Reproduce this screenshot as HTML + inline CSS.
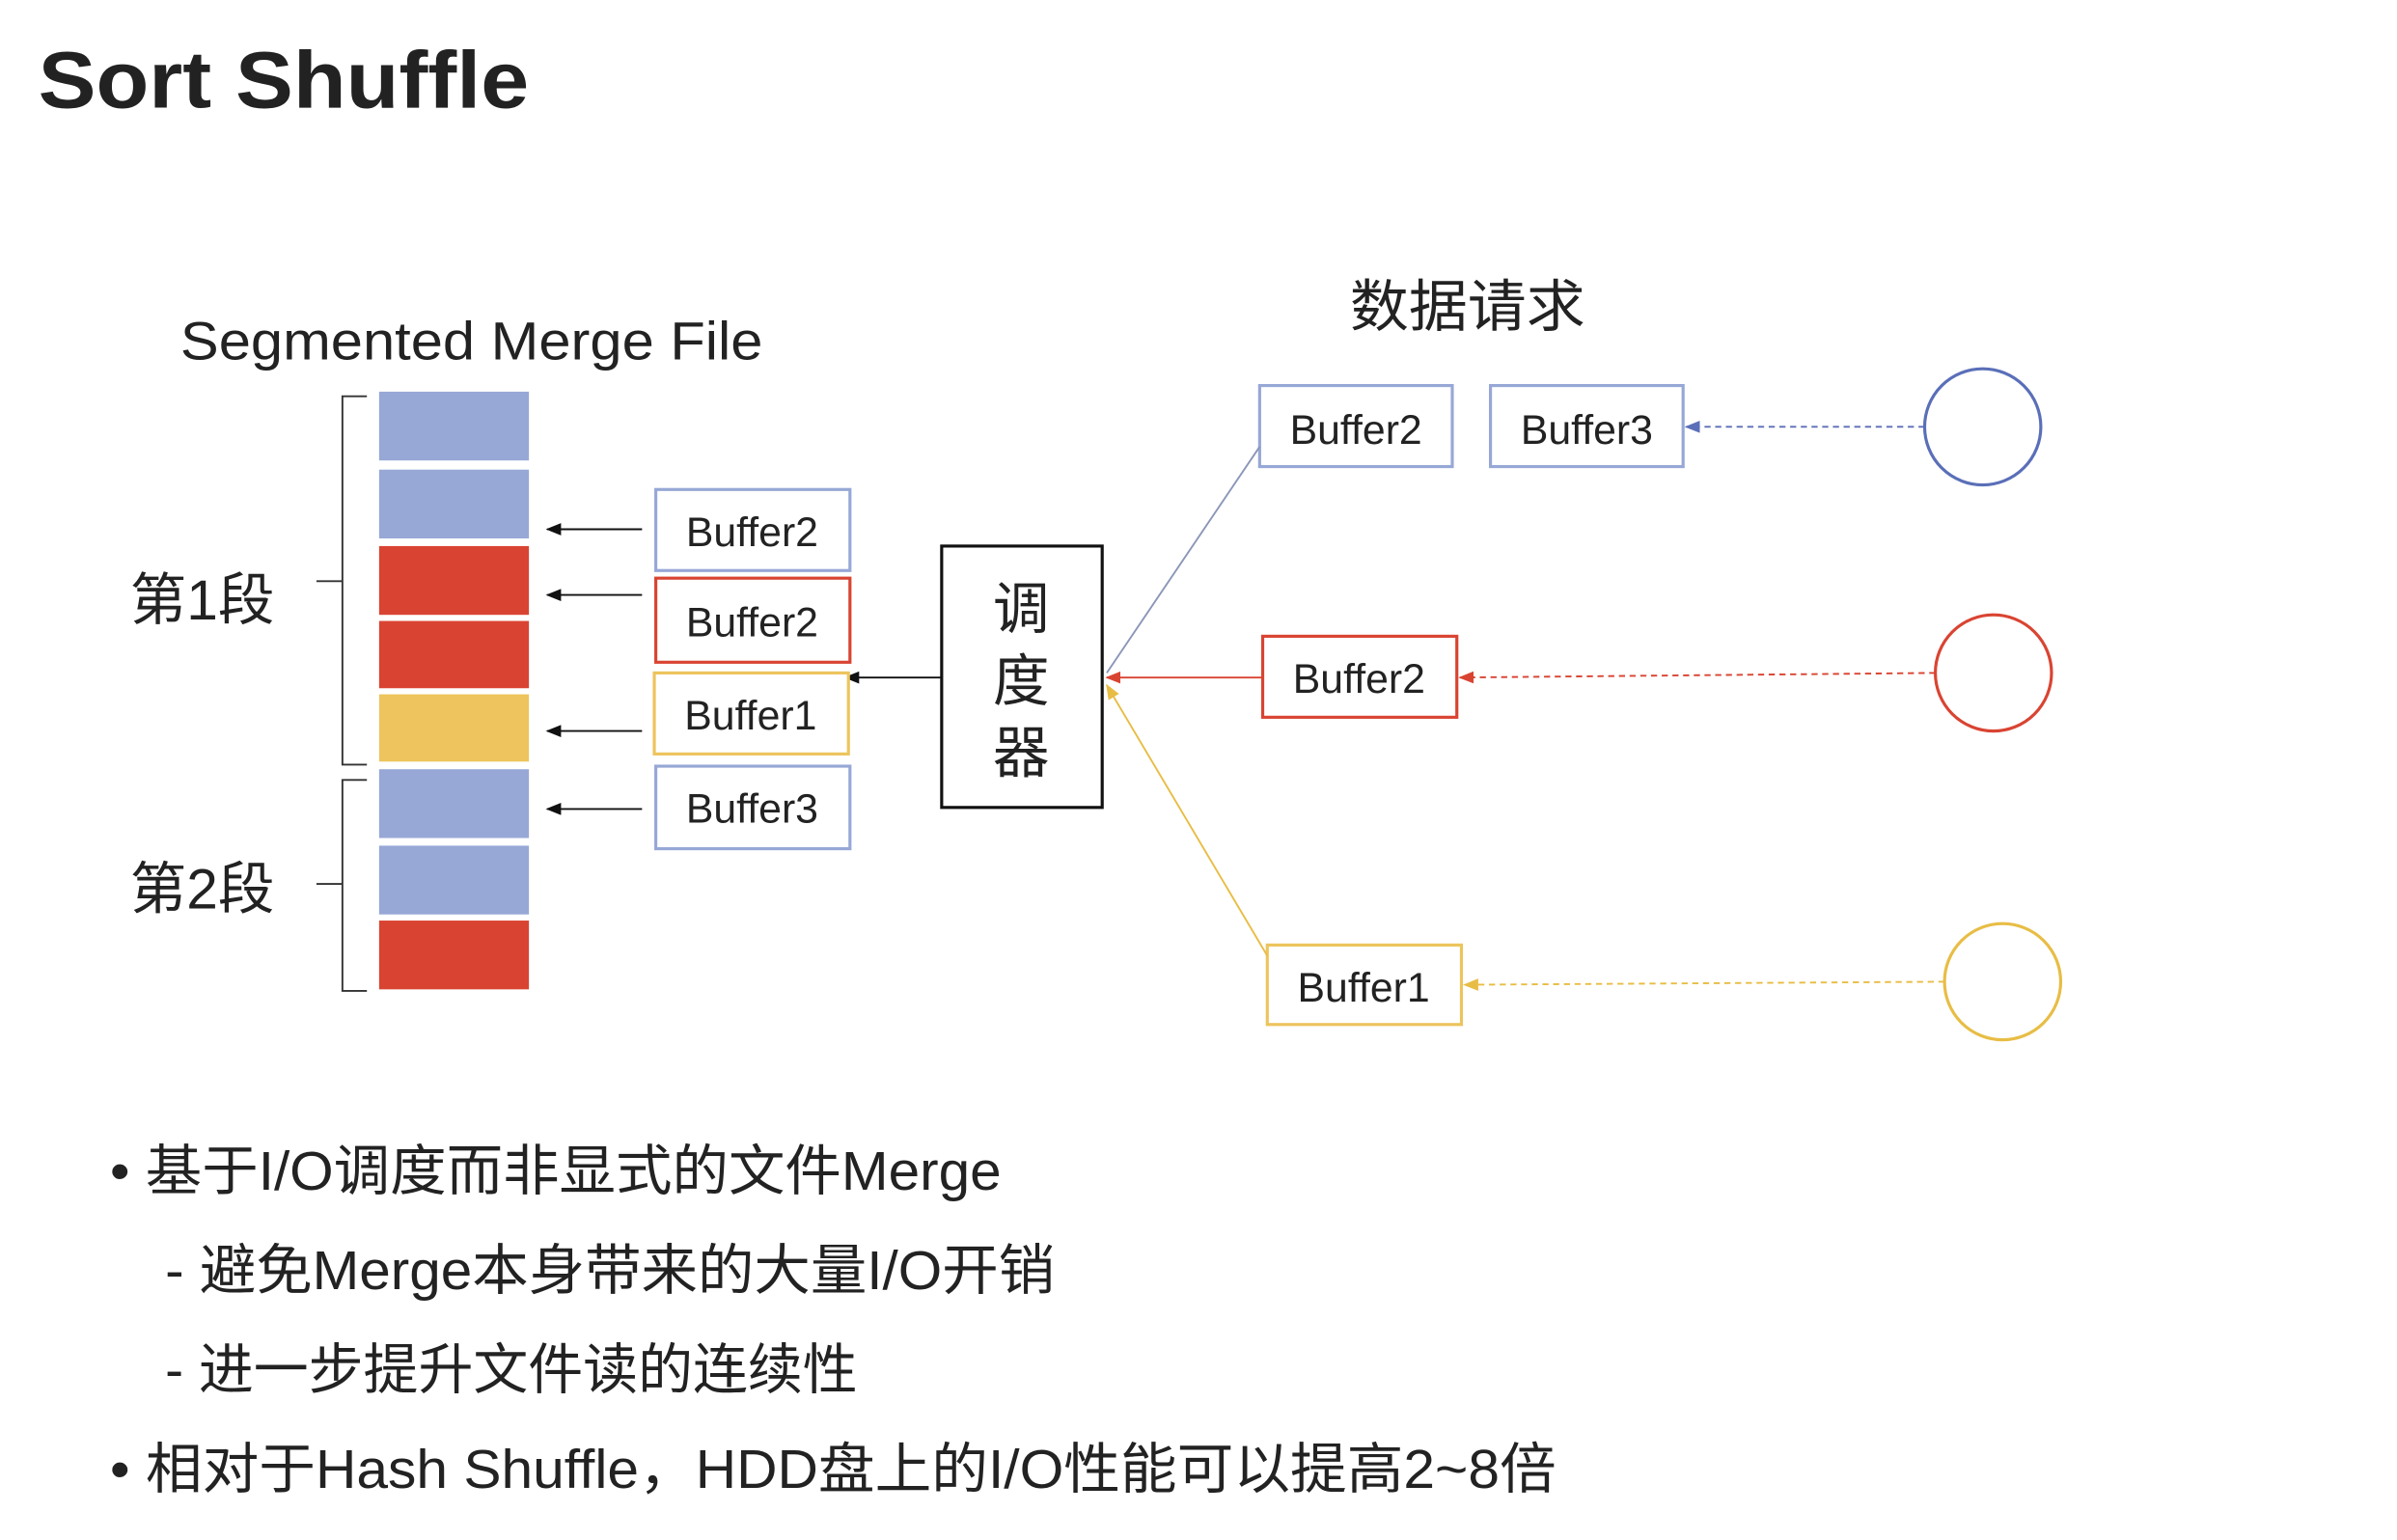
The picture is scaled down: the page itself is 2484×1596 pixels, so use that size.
<!DOCTYPE html>
<html><head><meta charset="utf-8"><style>
html,body{margin:0;padding:0;background:#fff;}
svg{display:block;}
text{font-family:"Liberation Sans","Noto Sans CJK SC",sans-serif;fill:#222;}
</style></head><body>
<svg width="2484" height="1596" viewBox="0 0 1568 1007" xmlns="http://www.w3.org/2000/svg">
<defs>
<marker id="ak" markerWidth="10" markerHeight="8" refX="9" refY="4" orient="auto" markerUnits="userSpaceOnUse"><path d="M0,0 L10,4 L0,8 z" fill="#111"/></marker>
<marker id="ab" markerWidth="10" markerHeight="8" refX="9" refY="4" orient="auto" markerUnits="userSpaceOnUse"><path d="M0,0 L10,4 L0,8 z" fill="#5a6fb8"/></marker>
<marker id="ar" markerWidth="10" markerHeight="8" refX="9" refY="4" orient="auto" markerUnits="userSpaceOnUse"><path d="M0,0 L10,4 L0,8 z" fill="#d94432"/></marker>
<marker id="ay" markerWidth="10" markerHeight="8" refX="9" refY="4" orient="auto" markerUnits="userSpaceOnUse"><path d="M0,0 L10,4 L0,8 z" fill="#e8bd45"/></marker>
</defs>
<text x="25" y="70" font-size="53" font-weight="bold" fill="#111" textLength="321" lengthAdjust="spacingAndGlyphs">Sort Shuffle</text>
<text x="118" y="235" font-size="35" textLength="381" lengthAdjust="spacingAndGlyphs">Segmented Merge File</text>
<g>
<rect x="248" y="256" width="98" height="45" fill="#97a8d6"/>
<rect x="248" y="307" width="98" height="45" fill="#97a8d6"/>
<rect x="248" y="357" width="98" height="45" fill="#d94432"/>
<rect x="248" y="406" width="98" height="44" fill="#d94432"/>
<rect x="248" y="454" width="98" height="44" fill="#edc45d"/>
<rect x="248" y="503" width="98" height="45" fill="#97a8d6"/>
<rect x="248" y="553" width="98" height="45" fill="#97a8d6"/>
<rect x="248" y="602" width="98" height="45" fill="#d94432"/>
</g>
<path d="M240,259 L224,259 L224,380 L207,380 M224,380 L224,500 L240,500" fill="none" stroke="#333" stroke-width="1.2"/>
<path d="M240,510 L224,510 L224,578 L207,578 M224,578 L224,648 L240,648" fill="none" stroke="#333" stroke-width="1.2"/>
<text x="85" y="405" font-size="37">第1段</text>
<text x="85" y="594" font-size="37">第2段</text>
<g stroke="#111" stroke-width="1.2" marker-end="url(#ak)">
<line x1="420" y1="346" x2="358" y2="346"/>
<line x1="420" y1="389" x2="358" y2="389"/>
<line x1="420" y1="478" x2="358" y2="478"/>
<line x1="420" y1="529" x2="358" y2="529"/>
<line x1="616" y1="443" x2="553" y2="443"/>
</g>
<g fill="#fff" stroke-width="2">
<rect x="429" y="320" width="127" height="53" stroke="#97a8d6"/>
<rect x="429" y="378" width="127" height="55" stroke="#d94432"/>
<rect x="428" y="440" width="127" height="53" stroke="#edc45d"/>
<rect x="429" y="501" width="127" height="54" stroke="#97a8d6"/>
<rect x="824" y="252" width="126" height="53" stroke="#97a8d6"/>
<rect x="975" y="252" width="126" height="53" stroke="#97a8d6"/>
<rect x="826" y="416" width="127" height="53" stroke="#d94432"/>
<rect x="829" y="618" width="127" height="52" stroke="#edc45d"/>
</g>
<g font-size="27" text-anchor="middle">
<text x="492" y="357">Buffer2</text>
<text x="492" y="416">Buffer2</text>
<text x="491" y="477">Buffer1</text>
<text x="492" y="538">Buffer3</text>
<text x="887" y="290">Buffer2</text>
<text x="1038" y="290">Buffer3</text>
<text x="889" y="453">Buffer2</text>
<text x="892" y="655">Buffer1</text>
</g>
<rect x="616" y="357" width="105" height="171" fill="#fff" stroke="#111" stroke-width="2"/>
<g font-size="37" text-anchor="middle"><text x="668" y="411">调</text><text x="668" y="458">度</text><text x="668" y="505">器</text></g>
<text x="883" y="213" font-size="37" textLength="154" lengthAdjust="spacingAndGlyphs">数据请求</text>
<line x1="824" y1="292" x2="724" y2="440" stroke="#8b96b8" stroke-width="1.2"/>
<line x1="826" y1="443" x2="724" y2="443" stroke="#d94432" stroke-width="1.2" marker-end="url(#ar)"/>
<line x1="829" y1="625" x2="724" y2="448" stroke="#e8bd45" stroke-width="1.2" marker-end="url(#ay)"/>
<circle cx="1297" cy="279" r="38" fill="none" stroke="#5a6fb8" stroke-width="2"/>
<circle cx="1304" cy="440" r="38" fill="none" stroke="#d94432" stroke-width="2"/>
<circle cx="1310" cy="642" r="38" fill="none" stroke="#e8bd45" stroke-width="2"/>
<line x1="1259" y1="279" x2="1103" y2="279" stroke="#5a6fb8" stroke-width="1.2" stroke-dasharray="4,3" marker-end="url(#ab)"/>
<line x1="1266" y1="440" x2="955" y2="443" stroke="#d94432" stroke-width="1.2" stroke-dasharray="4,3" marker-end="url(#ar)"/>
<line x1="1272" y1="642" x2="958" y2="644" stroke="#e8bd45" stroke-width="1.2" stroke-dasharray="4,3" marker-end="url(#ay)"/>
<g font-size="36">
<text x="72" y="778" textLength="583" lengthAdjust="spacingAndGlyphs">• 基于I/O调度而非显式的文件Merge</text>
<text x="108" y="843" textLength="582" lengthAdjust="spacingAndGlyphs">- 避免Merge本身带来的大量I/O开销</text>
<text x="108" y="908" textLength="453" lengthAdjust="spacingAndGlyphs">- 进一步提升文件读的连续性</text>
<text x="72" y="973" textLength="946" lengthAdjust="spacingAndGlyphs">• 相对于Hash Shuffle，HDD盘上的I/O性能可以提高2~8倍</text>
</g>
</svg>
</body></html>
